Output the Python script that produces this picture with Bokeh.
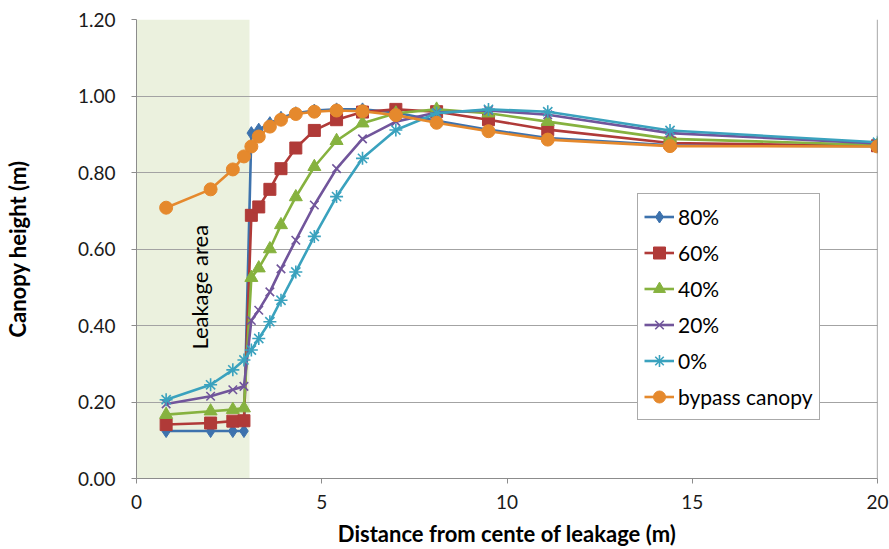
from bokeh.plotting import figure
from bokeh.models import (ColumnDataSource, Legend, LegendItem, BoxAnnotation,
                          Span, Label, FixedTicker, NumeralTickFormatter)
from bokeh.embed import file_html
from bokeh.resources import INLINE
import math

# ---------------- data ----------------
distance = [0.8, 2.0, 2.6, 2.9, 3.1, 3.3, 3.6, 3.9, 4.3, 4.8, 5.4, 6.1, 7.0, 8.1, 9.5, 11.1, 14.4, 20.0]

h80 = [0.124, 0.124, 0.124, 0.124, 0.903, 0.912, 0.929, 0.943, 0.955, 0.962, 0.965, 0.965,
       0.957, 0.935, 0.912, 0.890, 0.871, 0.869]
h60 = [0.141, 0.145, 0.150, 0.151, 0.688, 0.710, 0.756, 0.810, 0.864, 0.910, 0.938, 0.958,
       0.965, 0.959, 0.938, 0.912, 0.877, 0.870]
h40 = [0.167, 0.176, 0.180, 0.184, 0.525, 0.550, 0.600, 0.663, 0.736, 0.815, 0.883, 0.929,
       0.955, 0.965, 0.955, 0.933, 0.888, 0.872]
h20 = [0.195, 0.215, 0.232, 0.241, 0.413, 0.440, 0.488, 0.548, 0.623, 0.715, 0.810, 0.888,
       0.933, 0.957, 0.962, 0.951, 0.903, 0.876]
h0 = [0.206, 0.245, 0.284, 0.310, 0.336, 0.366, 0.410, 0.466, 0.540, 0.633, 0.737, 0.837,
      0.911, 0.955, 0.965, 0.959, 0.910, 0.879]
bypass = [0.708, 0.756, 0.808, 0.842, 0.868, 0.894, 0.920, 0.938, 0.953, 0.959, 0.962, 0.960,
          0.950, 0.930, 0.908, 0.886, 0.869, 0.868]

series_names = ["80%", "60%", "40%", "20%", "0%", "bypass canopy"]
series_values = [h80, h60, h40, h20, h0, bypass]
series_colors = ["#3d72ad", "#b03a38", "#86b23f", "#71559b", "#3aa2be", "#e5892d"]
series_markers = ["diamond", "square", "triangle", "x", "asterisk", "circle"]
series_sizes = [13, 12, 13, 12, 13, 13]

leakage_edge = 3.05
y_ticks = [0.0, 0.2, 0.4, 0.6, 0.8, 1.0, 1.2]
x_ticks = [0, 5, 10, 15, 20]

FONT = "Lato"

# ---------------- figure ----------------
p = figure(width=889, height=549, x_range=(0, 20), y_range=(0, 1.2),
           output_backend="svg", toolbar_location=None,
           min_border_left=136, min_border_right=12, min_border_top=19, min_border_bottom=68)
p.outline_line_color = None
p.background_fill_color = "white"
p.border_fill_color = "white"

# leakage area shading (under grid)
p.add_layout(BoxAnnotation(left=0, right=leakage_edge, fill_color="#ebf1de", fill_alpha=1.0,
                           line_color=None, level="image"))

p.xgrid.grid_line_color = None
p.ygrid.grid_line_color = "#a3a3a3"
p.ygrid.grid_line_width = 1

p.add_layout(Span(location=20, dimension="height", line_color="#6e6e6e", line_width=1.2))

# axes
p.yaxis.ticker = FixedTicker(ticks=y_ticks)
p.xaxis.ticker = FixedTicker(ticks=x_ticks)
p.yaxis.formatter = NumeralTickFormatter(format="0.00")
for ax in (p.xaxis, p.yaxis):
    ax.axis_line_color = "#8c8c8c"
    ax.major_tick_line_color = "#8c8c8c"
    ax.major_tick_out = 5
    ax.major_tick_in = 0
    ax.minor_tick_line_color = None
    ax.major_label_text_font = FONT
    ax.major_label_text_font_size = "19px"
    ax.major_label_text_color = "#1a1a1a"
    ax.axis_label_text_font = FONT
    ax.axis_label_text_font_size = "22px"
    ax.axis_label_text_font_style = "bold"
    ax.axis_label_text_color = "black"
p.yaxis.major_label_standoff = 16
p.xaxis.major_label_standoff = 11
p.xaxis.axis_label = "Distance from cente of leakage (m)"
p.xaxis.axis_label_standoff = 8
p.yaxis.axis_label = "Canopy height (m)"
p.yaxis.axis_label_standoff = 44

# Leakage area label
p.add_layout(Label(x=1.71, y=0.50, text="Leakage area", angle=math.pi / 2,
                   text_align="center", text_baseline="middle", text_font=FONT,
                   text_font_size="22px", text_font_style="normal", text_color="black"))

items = []
for name, vals, col, mk, sz in zip(series_names, series_values, series_colors,
                                   series_markers, series_sizes):
    src = ColumnDataSource(dict(x=distance, y=vals))
    ln = p.line("x", "y", source=src, line_color=col, line_width=2.6)
    if mk in ("x", "asterisk"):
        sc = p.scatter("x", "y", source=src, marker=mk, size=sz, line_color=col,
                       line_width=1.6)
    else:
        sc = p.scatter("x", "y", source=src, marker=mk, size=sz, fill_color=col,
                       line_color=col, line_width=1)
    items.append(LegendItem(label=name, renderers=[ln, sc]))

legend = Legend(items=items, location=(501, 58), label_text_font=FONT,
                label_text_font_size="21px", label_text_color="black",
                glyph_width=30, glyph_height=33, label_height=33, spacing=3,
                padding=6, margin=0, border_line_color="#555555", border_line_width=1,
                background_fill_color="white", background_fill_alpha=1.0,
                label_standoff=4)
p.add_layout(legend, "center")

open("out.html", "w").write(file_html(p, INLINE))
